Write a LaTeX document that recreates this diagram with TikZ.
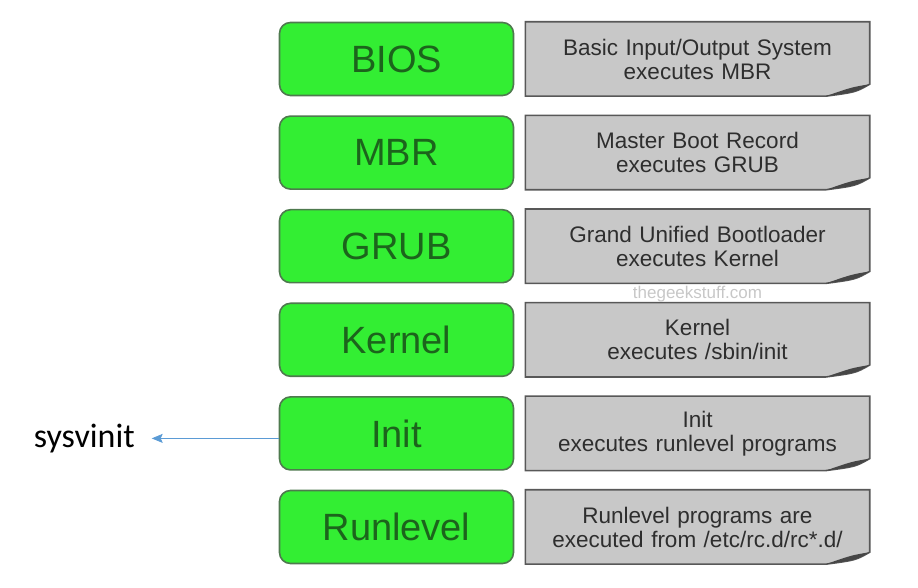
\documentclass[tikz,border=0pt]{standalone}
\usepackage{fontspec}
\setmainfont{Liberation Sans}
\newfontfamily\calibri{Carlito}
\usetikzlibrary{positioning,arrows.meta,backgrounds}
\definecolor{boxgreen}{HTML}{33EE33}
\definecolor{greenline}{HTML}{4E7A4E}
\definecolor{greentext}{HTML}{1C641C}
\definecolor{notegray}{HTML}{C8C8C8}
\definecolor{noteline}{HTML}{585858}
\definecolor{notetext}{HTML}{2E2E2E}
\definecolor{arrowblue}{HTML}{5B9BD5}

\begin{document}
\begin{tikzpicture}[x=1pt,y=1pt,
      every node/.style={inner sep=0pt},
      stage/.style={rectangle,rounded corners=11pt,draw=greenline,line width=1.6pt,fill=boxgreen,
        minimum width=234pt,minimum height=73pt,text=greentext,font=\fontsize{38}{42}\selectfont},
      note/.style={rectangle,minimum width=344pt,minimum height=74pt,text width=336pt,align=center,
        text=notetext,font=\fontsize{22.5}{24}\selectfont},
      notebox/.style={draw=noteline,line width=1.6pt,fill=notegray},
      fold/.style={fill=noteline!80!black},
      link/.style={draw=arrowblue,line width=0.9pt,-{Stealth[length=11pt,width=9pt,inset=2pt]}}]

      \useasboundingbox (0,0) rectangle (918,588);

      \node[stage] (bios) at (396.5,529) {BIOS};
      \node[stage,below=19pt of bios] (mbr) {MBR};
      \node[stage,below=19pt of mbr] (grub) {GRUB};
      \node[stage,below=19pt of grub] (kernel) {Kernel};
      \node[stage,below=19pt of kernel] (init) {Init};
      \node[stage,below=19pt of init] (runlevel) {Runlevel};

      \node[note,right=11pt of bios] (dbios) {Basic Input/Output System\\executes MBR};
      \node[note,right=11pt of mbr] (dmbr) {Master Boot Record\\executes GRUB};
      \node[note,right=11pt of grub] (dgrub) {Grand Unified Bootloader\\executes Kernel};
      \node[note,right=11pt of kernel] (dkernel) {Kernel\\executes /sbin/init};
      \node[note,right=11pt of init] (dinit) {Init\\executes runlevel programs};
      \node[note,right=11pt of runlevel] (drunlevel) {Runlevel programs are\\executed from /etc/rc.d/rc*.d/};

      \node[text=black!22,font=\fontsize{17}{17}\selectfont,below=3pt of dgrub] (mark) {thegeekstuff.com};

      \node[font=\calibri\fontsize{34}{40}\selectfont,outer xsep=17pt,left=127pt of init,yshift=-5pt] (sys) {sysvinit};
      \draw[link] (sys.east -| init.west) -- (sys.east);

      \begin{scope}[on background layer]
        \foreach \n in {dbios,dmbr,dgrub,dkernel,dinit,drunlevel}{
          \draw[notebox] (\n.north west) -- (\n.north east) -- ([yshift=12pt]\n.south east)
            .. controls ([xshift=-14pt,yshift=4pt]\n.south east) .. ([xshift=-44pt]\n.south east)
            -- (\n.south west) -- cycle;
          \fill[fold] ([yshift=12pt]\n.south east)
            .. controls ([xshift=-14pt,yshift=4pt]\n.south east) .. ([xshift=-44pt]\n.south east)
            .. controls ([xshift=-18pt,yshift=9pt]\n.south east) .. cycle;
        }
      \end{scope}
    \end{tikzpicture}
\end{document}
